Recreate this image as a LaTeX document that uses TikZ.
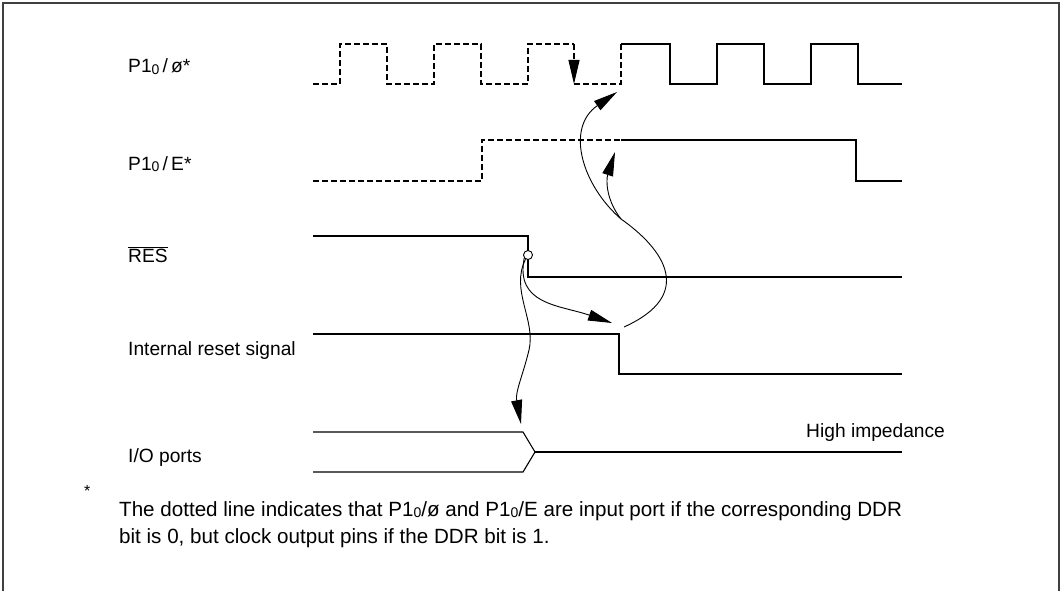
\documentclass[tikz,border=0pt]{standalone}
\usepackage{fontspec}
\setmainfont{Liberation Sans}
\usetikzlibrary{arrows.meta}

\newcommand{\pzero}{P1\raisebox{-1.5pt}{\fontsize{14}{14}\selectfont 0}}

\begin{document}
\begin{tikzpicture}[
  x=1pt, y=-1pt,
  lbl/.style={anchor=base west, inner sep=0pt, font=\fontsize{19.2}{22}\selectfont},
  sig/.style={line width=1.1pt},
  dsh/.style={sig, dash pattern=on 6pt off 3pt},
  cause/.style={line width=0.9pt, -{Triangle[length=24pt, width=11pt]}},
  dot/.style={circle, draw, fill=white, line width=0.9pt, inner sep=0pt, minimum size=9pt}
]
\useasboundingbox (0,0) rectangle (1062,591);
\draw[line width=1.8pt, black!75] (3,600) -- (3,3) -- (1059,3) -- (1059,600);

% signal names
\node[lbl] (phi) at (128,73) {\pzero\,/\,ø*};
\node[lbl] (clke) at (128,170) {\pzero\,/\,E*};
\node[lbl] (res) at (128,262) {$\overline{\mbox{RES}}$};
\node[lbl] (irs) at (128,355) {Internal reset signal};
\node[lbl] (io) at (128,462) {I/O ports};
\node[lbl] (hiz) at (806,437) {High impedance};

% P1_0 / phi
\draw[dsh] (313,84) -- (340,84) -- (340,44) -- (387,44) -- (387,84) -- (434,84) -- (434,44)
  -- (481,44) -- (481,84) -- (528,84) -- (528,44) -- (574,44);
\draw[dsh, -{Triangle[length=24pt, width=11pt]}] (574,44) -- (574,84);
\draw[dsh] (574,84) -- (621,84) -- (621,44);
\draw[sig] (621,44) -- (670,44) -- (670,84) -- (717,84) -- (717,44) -- (764,44) -- (764,84)
  -- (811,84) -- (811,44) -- (858,44) -- (858,84) -- (902,84);

% P1_0 / E
\draw[dsh] (313,181) -- (482,181) -- (482,140) -- (621,140);
\draw[sig] (621,140) -- (856,140) -- (856,181) -- (902,181);

% RES
\draw[sig] (313,236) -- (528,236) -- (528,277) -- (902,277);
\node[dot] (resdot) at (528,255) {};

% internal reset
\draw[sig] (313,334) -- (619,334) -- (619,374) -- (902,374);

% I/O ports
\draw[sig] (313,432) -- (523,432) -- (535,452) -- (523,472) -- (313,472);
\draw[sig] (535,452) -- (902,452);

% cause and effect
\coordinate (src) at (624,327);
\coordinate (fork) at (621,219);
\coordinate (tphi) at (617,92);
\coordinate (tclke) at (615,152);
\coordinate (tirs) at (612,323);
\coordinate (tio) at (521,424);

\draw[cause] (src) .. controls (695,295) and (665,250) .. (fork)
  .. controls (582,185) and (565,128) .. (tphi);
\draw[cause] (fork) .. controls (606,200) and (606,180) .. (tclke);
\draw[cause] (resdot.220) .. controls (515,305) and (560,305) .. (tirs);
\draw[cause] (resdot.240) .. controls (510,290) and (536,320) .. (529,350)
  .. controls (523,375) and (515,392) .. (tio);

% footnote
\node[lbl, font=\fontsize{16}{16}\selectfont] (star) at (84,496) {*};
\node[lbl, font=\fontsize{20.6}{24}\selectfont] (note1) at (119,516) {The dotted line indicates that \pzero/ø and \pzero/E are input port if the corresponding DDR};
\node[lbl, font=\fontsize{20.6}{24}\selectfont] (note2) at (119,543) {bit is 0, but clock output pins if the DDR bit is 1.};
\end{tikzpicture}
\end{document}
